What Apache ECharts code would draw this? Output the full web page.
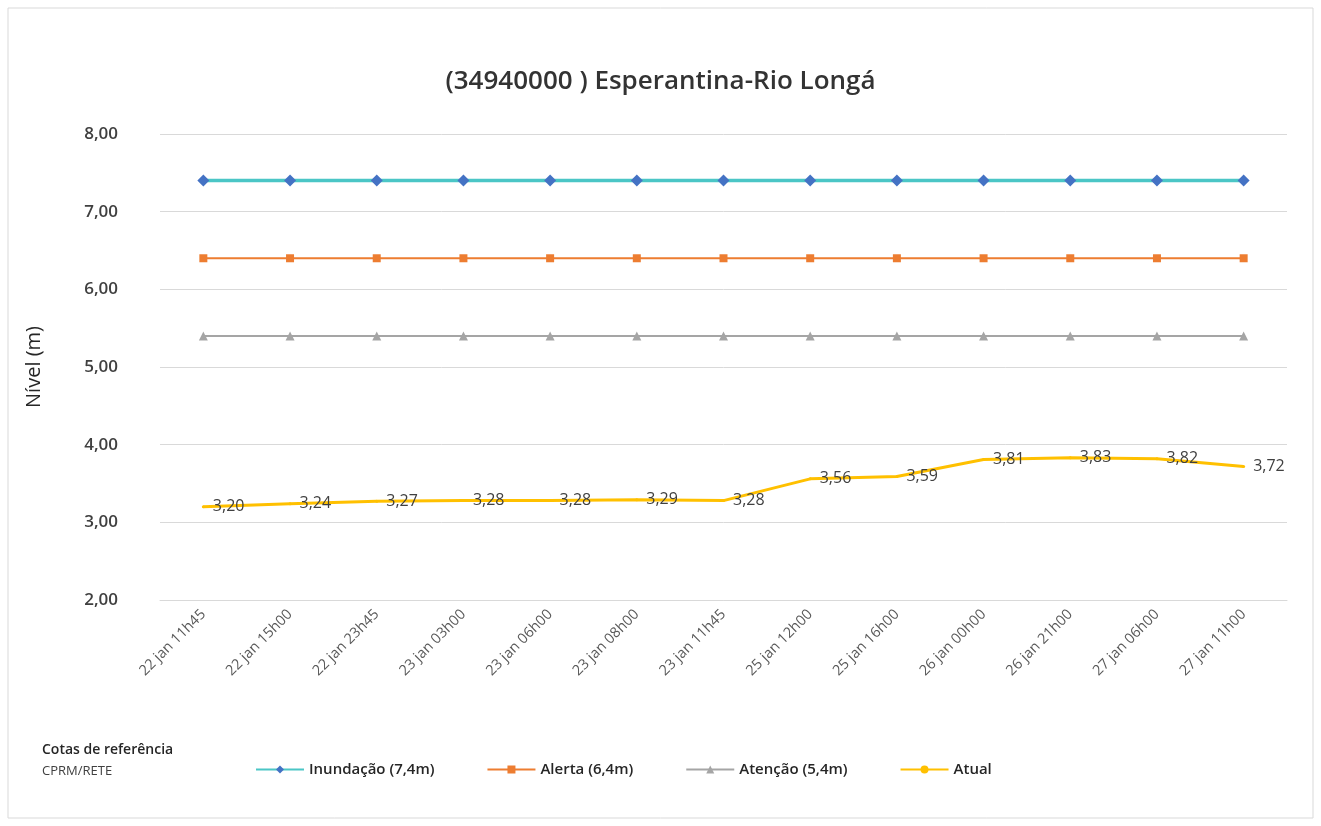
<!DOCTYPE html>
<html><head><meta charset="utf-8">
<script src="https://cdn.jsdelivr.net/npm/echarts@6/dist/echarts.min.js"></script>
<style>html,body{margin:0;padding:0;background:#fff}#c{width:1321px;height:826px}</style>
</head><body><div id="c"></div>
<script>
const categories = ['22 jan 11h45','22 jan 15h00','22 jan 23h45','23 jan 03h00','23 jan 06h00','23 jan 08h00','23 jan 11h45','25 jan 12h00','25 jan 16h00','26 jan 00h00','26 jan 21h00','27 jan 06h00','27 jan 11h00'];
const inundacao = [7.4,7.4,7.4,7.4,7.4,7.4,7.4,7.4,7.4,7.4,7.4,7.4,7.4];
const alerta = [6.4,6.4,6.4,6.4,6.4,6.4,6.4,6.4,6.4,6.4,6.4,6.4,6.4];
const atencao = [5.4,5.4,5.4,5.4,5.4,5.4,5.4,5.4,5.4,5.4,5.4,5.4,5.4];
const atual = [3.20,3.24,3.27,3.28,3.28,3.29,3.28,3.56,3.59,3.81,3.83,3.82,3.72];
const yTicks = {min:2, max:8, interval:1};
const fmt = v => v.toFixed(2).replace('.', ',');
const F = 'Open Sans';
const chart = echarts.init(document.getElementById('c'));
chart.setOption({
  animation:false,
  textStyle:{fontFamily:F},
  graphic:[
    {type:'rect', shape:{x:8,y:8,width:1305,height:810}, style:{fill:'none',stroke:'#d9d9d9',lineWidth:1}},
    {type:'text', left:42, top:743, style:{text:'Cotas de referência', font:'600 14px "Open Sans"', fill:'#262626'}},
    {type:'text', left:42, top:765, style:{text:'CPRM/RETE', font:'13px "Open Sans"', fill:'#404040'}}
  ],
  title:{text:'(34940000 ) Esperantina-Rio Longá', left:'center', top:64, textStyle:{fontFamily:F, fontSize:26, fontWeight:600, color:'#333333'}},
  legend:{bottom:44, left:250, itemGap:52, itemWidth:48, itemHeight:10, textStyle:{fontFamily:F, fontSize:15, fontWeight:600, color:'#262626'},
    data:['Inundação (7,4m)','Alerta (6,4m)','Atenção (5,4m)','Atual']},
  grid:{left:160, right:34, top:134, bottom:226},
  xAxis:{type:'category', data:categories, boundaryGap:true,
    axisLine:{lineStyle:{color:'#d9d9d9'}}, axisTick:{show:false},
    axisLabel:{rotate:45, color:'#595959', fontSize:14.5, fontFamily:F, margin:12}},
  yAxis:{type:'value', min:yTicks.min, max:yTicks.max, interval:yTicks.interval,
    name:'Nível (m)', nameLocation:'middle', nameGap:116, nameRotate:90, nameTextStyle:{fontSize:20, color:'#262626', fontFamily:F},
    axisLine:{show:false}, axisTick:{show:false},
    axisLabel:{formatter:v=>fmt(v), fontSize:17, fontWeight:600, color:'#404040', margin:42, fontFamily:F},
    splitLine:{lineStyle:{color:'#d9d9d9', width:1}}},
  series:[
    {name:'Inundação (7,4m)', type:'line', data:inundacao, symbol:'diamond', symbolSize:12,
      lineStyle:{color:'#4BC6C6', width:3.5}, itemStyle:{color:'#4472C4'}},
    {name:'Alerta (6,4m)', type:'line', data:alerta, symbol:'rect', symbolSize:8,
      lineStyle:{color:'#ED7D31', width:2}, itemStyle:{color:'#ED7D31'}},
    {name:'Atenção (5,4m)', type:'line', data:atencao, symbol:'triangle', symbolSize:9,
      lineStyle:{color:'#A5A5A5', width:2}, itemStyle:{color:'#A5A5A5'}},
    {name:'Atual', type:'line', data:atual, symbol:'circle', symbolSize:3, showSymbol:true,
      lineStyle:{color:'#FFC000', width:3}, itemStyle:{color:'#FFC000'},
      label:{show:true, position:'right', distance:8, formatter:p=>fmt(p.value), fontSize:16, color:'#404040', fontFamily:F}}
  ]
});
</script></body></html>
